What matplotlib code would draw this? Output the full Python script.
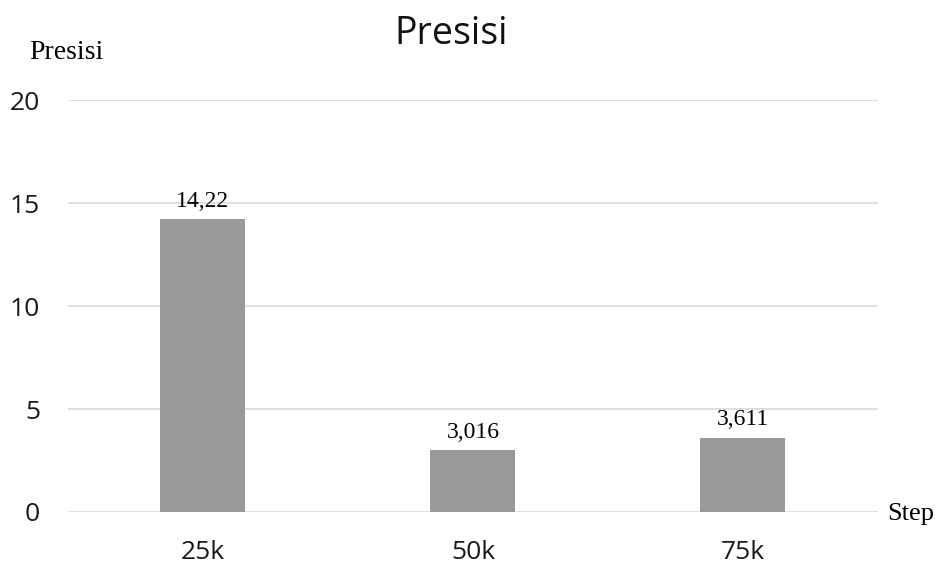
import numpy as np
import matplotlib
matplotlib.use("Agg")
import matplotlib.pyplot as plt

steps = ["25k", "50k", "75k"]
presisi = [14.22, 3.016, 3.611]
value_labels = ["14,22", "3,016", "3,611"]

fig = plt.figure(figsize=(9.36, 5.63), dpi=100)
ax = fig.add_axes([0.0726, 0.0906, 0.8654, 0.7316])

x = np.arange(len(steps))
ax.bar(x, presisi, width=0.315, color="#999999", zorder=3)
for xi, v, lab in zip(x, presisi, value_labels):
    ax.text(xi, v + 0.35, lab, ha="center", va="bottom",
            fontsize=17, family="Liberation Serif", color="#000000", zorder=4)

ax.set_xlim(-0.5, 2.5)
ax.set_ylim(0, 20)
ax.set_yticks([0, 5, 10, 15, 20])
ax.set_xticks(x)
ax.set_xticklabels(steps)
ax.yaxis.grid(True, color="#d9d9d9", linewidth=1.2, zorder=0)
for s in ["top", "right", "left", "bottom"]:
    ax.spines[s].set_visible(False)
ax.tick_params(length=0, labelsize=19)
for t in ax.get_xticklabels() + ax.get_yticklabels():
    t.set_family("Open Sans")
    t.set_color("#1a1a1a")
ax.tick_params(axis="y", pad=20)
ax.tick_params(axis="x", pad=20)

fig.text(0.482, 0.94, "Presisi", ha="center", va="center",
         fontsize=27, family="Open Sans", color="#111111")
fig.text(0.031, 0.907, "Presisi", ha="left", va="center",
         fontsize=20, family="Liberation Serif")
fig.text(0.948, 0.087, "Step", ha="left", va="center",
         fontsize=19, family="Liberation Serif")

fig.savefig("out.png", dpi=100)
